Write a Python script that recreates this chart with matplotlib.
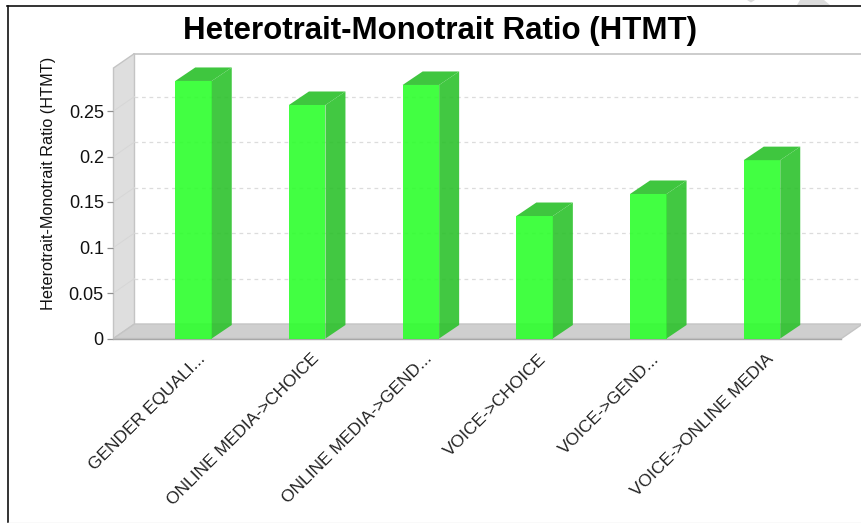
import matplotlib
matplotlib.use("Agg")
import matplotlib.pyplot as plt
from matplotlib.patches import Polygon, Rectangle

categories = ["GENDER EQUALI...", "ONLINE MEDIA->CHOICE", "ONLINE MEDIA->GEND...",
              "VOICE->CHOICE", "VOICE->GEND...", "VOICE->ONLINE MEDIA"]
values = [0.283, 0.2566, 0.2786, 0.1346, 0.1588, 0.196]
y_ticks = [0, 0.05, 0.1, 0.15, 0.2, 0.25]
y_labels = ["0", "0.05", "0.1", "0.15", "0.2", "0.25"]
title = "Heterotrait-Monotrait Ratio (HTMT)"
ylabel = "Heterotrait-Monotrait Ratio (HTMT)"

W, H = 862, 523
plt.rcParams['font.family'] = ['Liberation Sans', 'DejaVu Sans']
fig = plt.figure(figsize=(W / 100, H / 100), dpi=100, facecolor='white')

L, R, T, B = 113.5, 841.5, 68.0, 338.5
ax = fig.add_axes([L / W, 1 - B / H, (R - L) / W, (B - T) / H])
px_y = 910.0
px_x = 113.7
ax.set_xlim(-(193.5 - L) / px_x, (R - 193.5) / px_x)
ax.set_ylim(0, (B - T) / px_y)
dx = 21 / px_x
dy = 14.5 / px_y
bdx = 20 / px_x
bdy = 13.5 / px_y
bw = 36.5 / px_x
x0, x1 = ax.get_xlim()
y1 = ax.get_ylim()[1]
ax.patch.set_visible(False)
for s in ax.spines.values():
    s.set_visible(False)

edge = '#c4c4c4'
# side wall, floor and back plane
ax.add_patch(Polygon([(x0, 0), (x0 + dx, dy), (x0 + dx, y1 + dy), (x0, y1)], closed=True,
                     fc='#dedede', ec=edge, lw=1, clip_on=False, zorder=1))
ax.add_patch(Polygon([(x0, 0), (x0 + dx, dy), (x1 + dx, dy), (x1, 0)], closed=True,
                     fc='#cfcfcf', ec=edge, lw=1, clip_on=False, zorder=1))
ax.plot([x0 + dx, x1 + dx, x1 + dx], [y1 + dy, y1 + dy, dy], color=edge, lw=1.2,
        clip_on=False, zorder=1)
ax.plot([x0, x1], [0, 0], color='#a8a8a8', lw=1, clip_on=False, zorder=2)

# grid on back plane and side wall
for t in y_ticks[1:]:
    ax.plot([x0 + dx, x1 + dx], [t + dy, t + dy], color='#dcdcdc', lw=0.9,
            dashes=(3, 3), clip_on=False, zorder=1.5)
    ax.plot([x0, x0 + dx], [t, t + dy], color='#d6d6d6', lw=0.7,
            clip_on=False, zorder=1.5)

# bars
for i, v in enumerate(values):
    a, b = i - bw / 2, i + bw / 2
    ax.add_patch(Rectangle((a, 0), bw, v, fc='#2dff2d', ec='none', alpha=0.9, zorder=3))
    ax.add_patch(Polygon([(b, 0), (b + bdx, bdy), (b + bdx, v + bdy), (b, v)], closed=True,
                         fc='#2dc22d', ec='none', alpha=0.9, zorder=3, clip_on=False))
    ax.add_patch(Polygon([(a, v), (a + bdx, v + bdy), (b + bdx, v + bdy), (b, v)], closed=True,
                         fc='#3fc63f', ec='none', zorder=3, clip_on=False))

# axes labels
ax.set_yticks(y_ticks, y_labels, fontsize=13, color='#111111')
ax.tick_params(axis='y', length=4, width=0.9, color='#909090', pad=3)
ax.set_xticks([])
for i, c in enumerate(categories):
    ax.annotate(c, xy=(i, 0), xycoords='data', xytext=(9, -18), textcoords='offset pixels',
                rotation=45, rotation_mode='anchor', ha='right', va='center',
                fontsize=12.5, color='#222222')
fig.text(48.5 / W, 1 - 183.5 / H, ylabel, rotation=90, ha='center', va='center',
         fontsize=11.7, color='#111111')
fig.text(440 / W, 1 - 31 / H, title, ha='center', va='center', fontsize=22.5,
         fontweight='bold', color='black')

# fragments of the page background above the frame
fig.add_artist(Polygon([(747 / W, 1), (755 / W, 1), (751 / W, 1 - 2.5 / H)], closed=True,
                       transform=fig.transFigure, fc='#dcdcdc', ec='none'))
fig.add_artist(Polygon([(800 / W, 1), (824 / W, 1), (830 / W, 1 - 5 / H), (797 / W, 1 - 5 / H)],
                       closed=True, transform=fig.transFigure, fc='#dcdcdc', ec='none'))

# outer frame
fig.add_artist(plt.Line2D([7.5 / W, 862 / W], [1 - 5.5 / H, 1 - 5.5 / H], color='#111111', lw=1.2))
fig.add_artist(plt.Line2D([8 / W, 8 / W], [1 - 5.5 / H, 1 - 522 / H], color='#111111', lw=1.2))
fig.add_artist(plt.Line2D([8 / W, 862 / W], [1 - 522.5 / H, 1 - 522.5 / H], color='#e4e4e4', lw=1))

fig.savefig("out.png", dpi=100)
